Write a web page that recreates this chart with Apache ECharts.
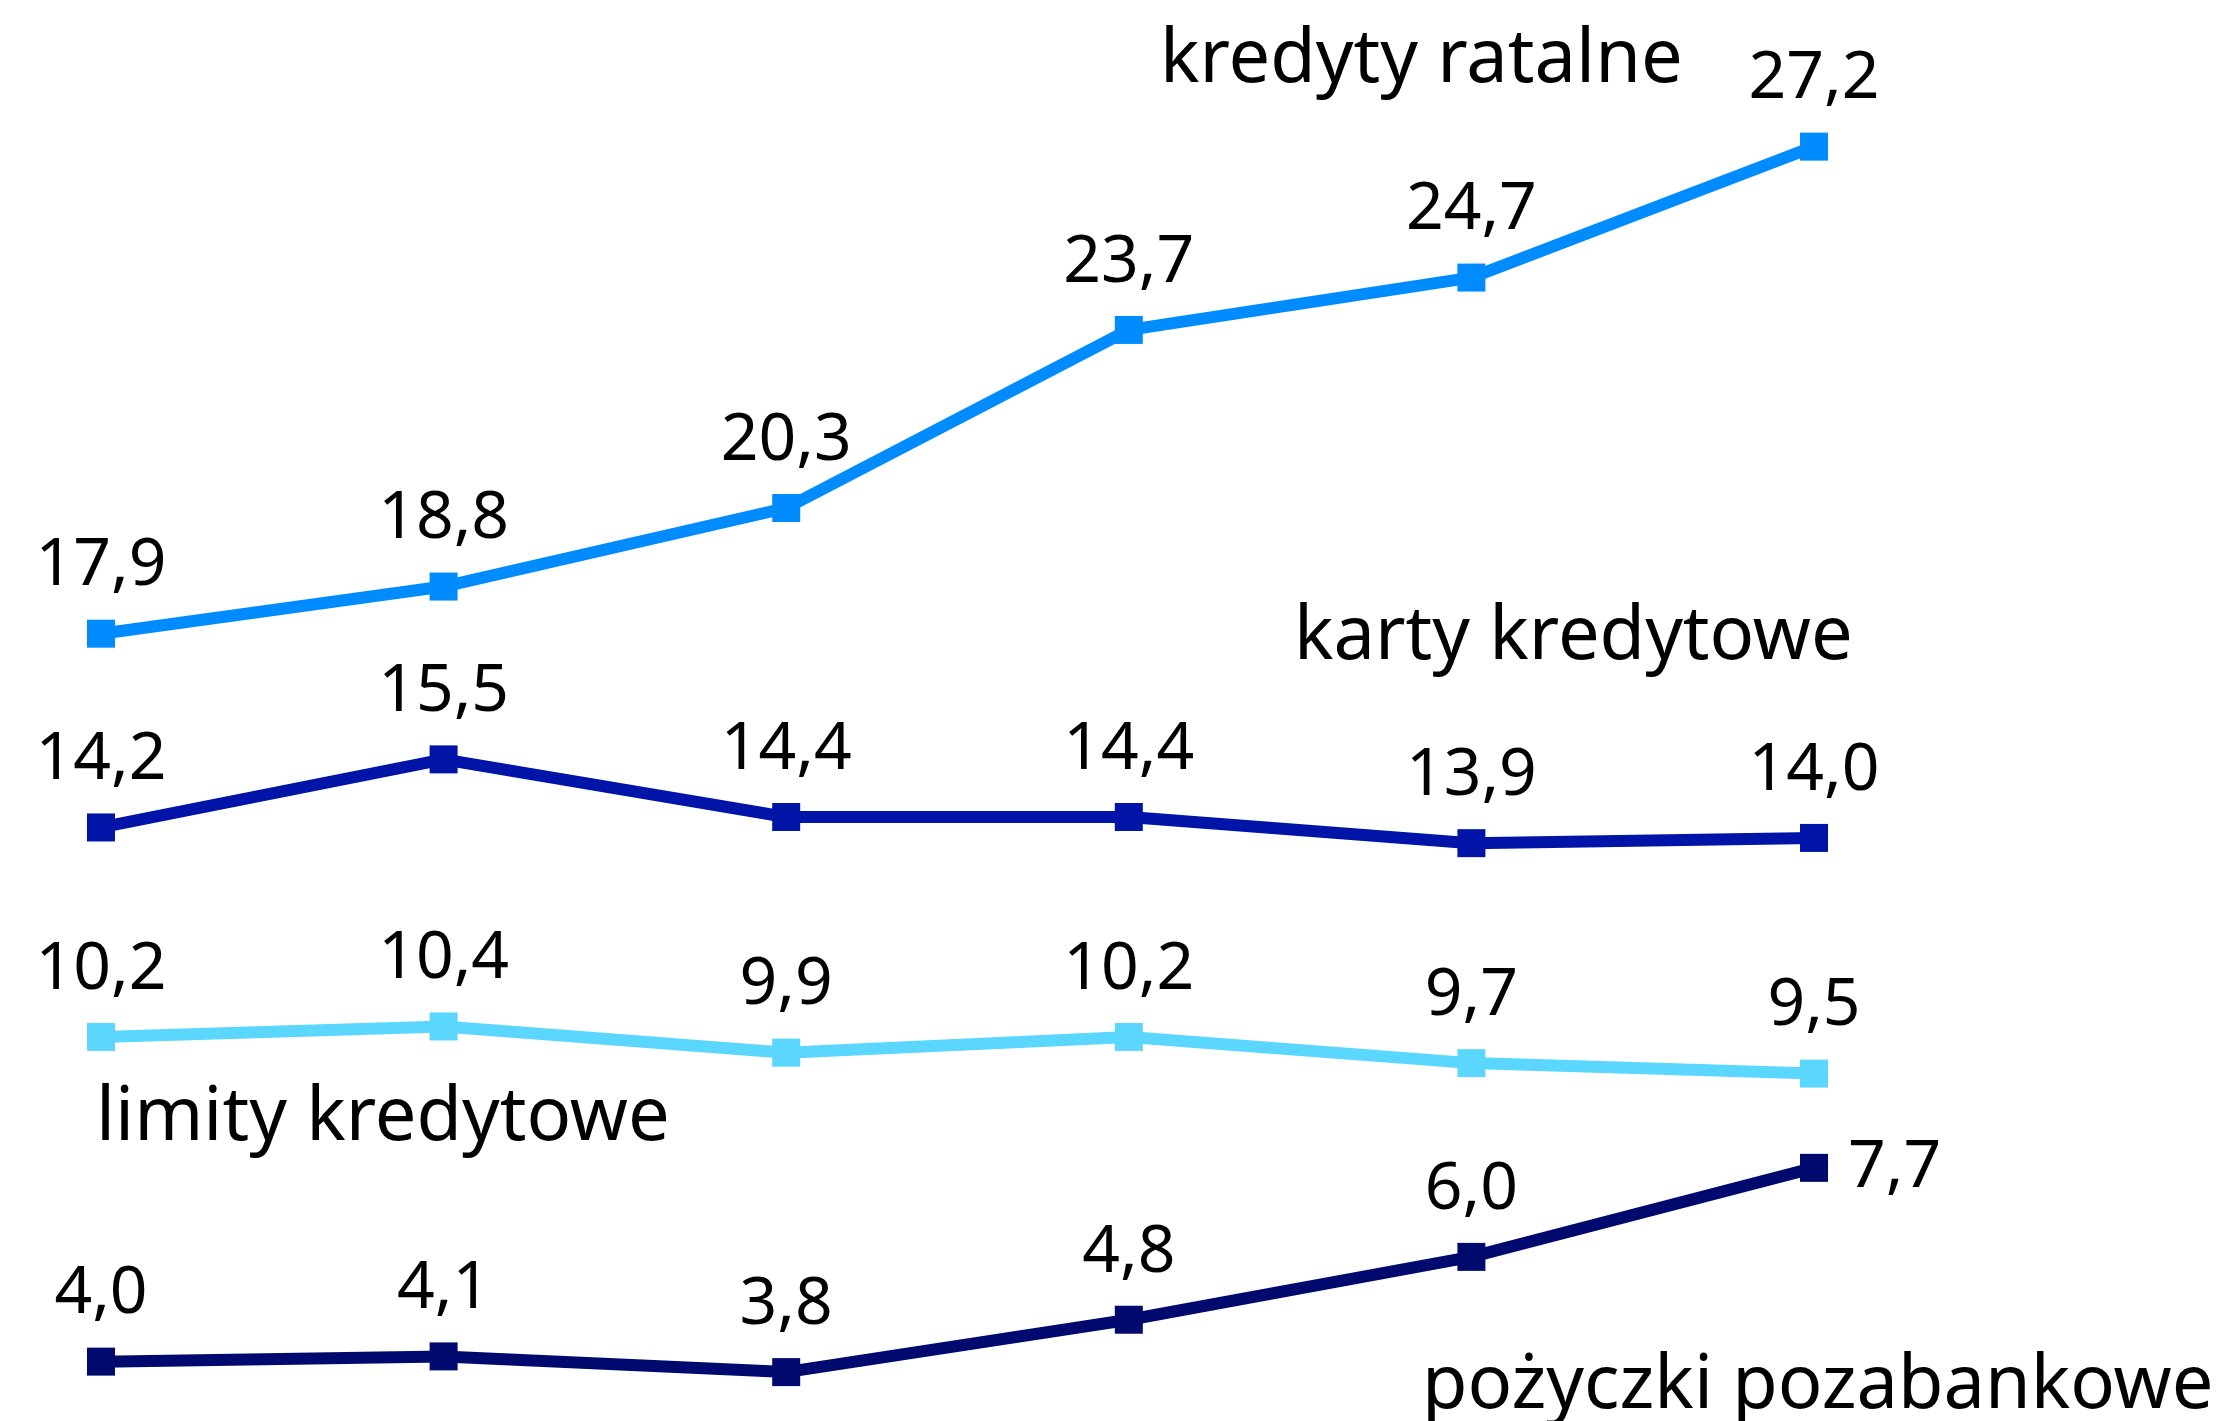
<!DOCTYPE html>
<html>
<head>
<meta charset="utf-8">
<script src="https://cdn.jsdelivr.net/npm/echarts@6/dist/echarts.min.js"></script>
<style>
  html, body { margin: 0; padding: 0; background: #fff; }
  #chart { width: 2218px; height: 1421px; }
</style>
</head>
<body>
<div id="chart"></div>
<script>
// kategorie (okresy) - brak podpisów osi na wykresie
var categories = ['1', '2', '3', '4', '5', '6'];

// wartości serii
var kredytyRatalne = [17.9, 18.8, 20.3, 23.7, 24.7, 27.2];
var kartyKredytowe = [14.2, 15.5, 14.4, 14.4, 13.9, 14.0];
var limityKredytowe = [10.2, 10.4, 9.9, 10.2, 9.7, 9.5];
var pozyczkiPozabankowe = [4.0, 4.1, 3.8, 4.8, 6.0, 7.7];

var FONT = '"Noto Sans", sans-serif';

// etykieta wartości z przecinkiem
function fmt(p) {
  return p.value.toFixed(1).replace('.', ',');
}

function makeSeries(name, data, color, lastRight) {
  return {
    name: name,
    type: 'line',
    data: data.map(function (v, i) {
      if (lastRight && i === data.length - 1) {
        return { value: v, label: { position: 'right', distance: 20 } };
      }
      return v;
    }),
    symbol: 'rect',
    symbolSize: 28,
    lineStyle: { color: color, width: 12 },
    itemStyle: { color: color },
    label: {
      show: true,
      position: 'top',
      distance: 20,
      formatter: fmt,
      color: '#000',
      fontSize: 66,
      fontFamily: FONT
    },
    animation: false
  };
}

var chart = echarts.init(document.getElementById('chart'));

chart.setOption({
  backgroundColor: '#fff',
  grid: { left: 101, right: 404, top: 0, height: 1414 },
  xAxis: {
    type: 'category',
    data: categories,
    boundaryGap: false,
    show: false
  },
  yAxis: {
    type: 'value',
    min: 3,
    max: 30,
    show: false
  },
  graphic: [
    { type: 'text', left: 1160, top: 24, style: { text: 'kredyty ratalne', font: '74px ' + FONT, fill: '#000' } },
    { type: 'text', left: 1294, top: 601, style: { text: 'karty kredytowe', font: '74px ' + FONT, fill: '#000' } },
    { type: 'text', left: 96, top: 1082, style: { text: 'limity kredytowe', font: '74px ' + FONT, fill: '#000' } },
    { type: 'text', left: 1422, top: 1350, style: { text: 'pożyczki pozabankowe', font: '74px ' + FONT, fill: '#000' } }
  ],
  series: [
    makeSeries('kredyty ratalne', kredytyRatalne, '#008cff', false),
    makeSeries('karty kredytowe', kartyKredytowe, '#0014a8', false),
    makeSeries('limity kredytowe', limityKredytowe, '#5bd7ff', false),
    makeSeries('pożyczki pozabankowe', pozyczkiPozabankowe, '#000a6e', true)
  ]
});
</script>
</body>
</html>
